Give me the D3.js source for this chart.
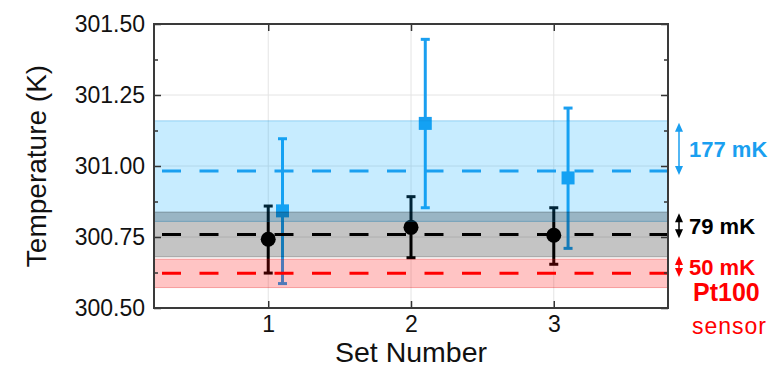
<!DOCTYPE html>
<html>
<head>
<meta charset="utf-8">
<script src="https://cdn.jsdelivr.net/npm/d3@7"></script>
<style>
  body { margin: 0; background: #fff; }
  svg { display: block; }
</style>
</head>
<body>
<div id="chart"></div>
<script>
// values
const setNumbers = [1, 2, 3];
const sensorMean = [300.742, 300.784, 300.756];
const sensorLow = [300.623, 300.677, 300.654];
const sensorHigh = [300.859, 300.892, 300.853];
const refMean = [300.842, 301.150, 300.958];
const refLow = [300.586, 300.853, 300.710];
const refHigh = [301.096, 301.446, 301.204];

// mean level and spread for each band (blue, black, red)
const bandNames = ['177 mK', '79 mK', '50 mK'];
const bandMeans = [300.982, 300.759, 300.622];
const bandSpreads = [0.177, 0.079, 0.050];
// double arrows beside the plot
const arrowTop = [301.152, 300.834, 300.683];
const arrowBottom = [300.968, 300.746, 300.609];

const yTicks = [300.50, 300.75, 301.00, 301.25, 301.50];
const yMinorTicks = [300.625, 300.875, 301.125, 301.375];

const W = 772, H = 375;
const margin = { top: 24, right: 104, bottom: 67, left: 154 };
const width = W - margin.left - margin.right;
const height = H - margin.top - margin.bottom;

const blue = '#1a9ff0';
const red = '#ff0000';
const bandFill = ['rgba(0,170,255,0.22)', 'rgba(0,0,0,0.23)', 'rgba(255,0,0,0.23)'];
const bandEdge = ['rgba(0,140,220,0.35)', 'rgba(0,0,0,0.25)', 'rgba(230,0,0,0.3)'];
const bandColor = [blue, '#000', red];
const font = '"Liberation Sans", Arial, sans-serif';

const svg = d3.select('#chart').append('svg')
  .attr('width', W)
  .attr('height', H);

const g = svg.append('g')
  .attr('transform', `translate(${margin.left},${margin.top})`);

const x = d3.scaleLinear().domain([0.2, 3.8]).range([0, width]);
const y = d3.scaleLinear().domain([300.5, 301.5]).range([height, 0]);

// gridlines
g.append('g').selectAll('line').data(yTicks).enter().append('line')
  .attr('x1', 0).attr('x2', width)
  .attr('y1', d => y(d)).attr('y2', d => y(d))
  .style('stroke', '#e4e4e4').style('stroke-width', 1);
g.append('g').selectAll('line').data(setNumbers).enter().append('line')
  .attr('x1', d => x(d)).attr('x2', d => x(d))
  .attr('y1', 0).attr('y2', height)
  .style('stroke', '#e4e4e4').style('stroke-width', 1);

// error bars + markers
const drawSeries = (mean, lo, hi, dx, color, shape) => {
  const s = g.append('g');
  const idx = d3.range(mean.length);
  s.selectAll('.bar').data(idx).enter().append('line')
    .attr('x1', i => x(setNumbers[i] + dx)).attr('x2', i => x(setNumbers[i] + dx))
    .attr('y1', i => y(lo[i])).attr('y2', i => y(hi[i]))
    .style('stroke', color).style('stroke-width', 3);
  [lo, hi].forEach(arr => {
    s.selectAll(null).data(idx).enter().append('line')
      .attr('x1', i => x(setNumbers[i] + dx) - 4.5).attr('x2', i => x(setNumbers[i] + dx) + 4.5)
      .attr('y1', i => y(arr[i])).attr('y2', i => y(arr[i]))
      .style('stroke', color).style('stroke-width', 3);
  });
  if (shape === 'circle') {
    s.selectAll('circle').data(idx).enter().append('circle')
      .attr('cx', i => x(setNumbers[i] + dx)).attr('cy', i => y(mean[i]))
      .attr('r', 7.5).style('fill', color);
  } else {
    s.selectAll('rect').data(idx).enter().append('rect')
      .attr('x', i => x(setNumbers[i] + dx) - 6.5).attr('y', i => y(mean[i]) - 6.5)
      .attr('width', 13).attr('height', 13).style('fill', color);
  }
};
drawSeries(sensorMean, sensorLow, sensorHigh, 0, '#000', 'circle');
drawSeries(refMean, refLow, refHigh, 0.1, blue, 'square');

// shaded bands (drawn over the points, semi-transparent)
g.append('g').selectAll('rect').data(d3.range(bandMeans.length)).enter().append('rect')
  .attr('x', 0).attr('width', width)
  .attr('y', i => y(bandMeans[i] + bandSpreads[i]))
  .attr('height', i => y(bandMeans[i] - bandSpreads[i]) - y(bandMeans[i] + bandSpreads[i]))
  .style('fill', i => bandFill[i])
  .style('stroke', i => bandEdge[i]).style('stroke-width', 1);

// dashed mean lines
g.append('g').selectAll('line').data(d3.range(bandMeans.length)).enter().append('line')
  .attr('x1', 0).attr('x2', width)
  .attr('y1', i => y(bandMeans[i])).attr('y2', i => y(bandMeans[i]))
  .style('stroke', i => bandColor[i]).style('stroke-width', 3)
  .style('stroke-dasharray', '19,18.5').style('stroke-dashoffset', 29.5);

// axes with inward ticks
const tickStyle = sel => {
  sel.select('.domain').remove();
  sel.selectAll('line').style('stroke', '#333').style('stroke-width', 1.5);
  sel.selectAll('text').style('font-family', font)
    .style('font-size', '23px').style('fill', '#111');
};
g.append('g')
  .call(d3.axisLeft(y).tickValues(yTicks).tickFormat(d3.format('.2f')).tickSize(-7).tickPadding(9))
  .call(tickStyle);
g.append('g')
  .call(d3.axisLeft(y).tickValues(yMinorTicks).tickFormat('').tickSize(-4))
  .call(tickStyle);
g.append('g').attr('transform', `translate(${width},0)`)
  .call(d3.axisRight(y).tickValues(yTicks).tickFormat('').tickSize(-7))
  .call(tickStyle);
g.append('g').attr('transform', `translate(${width},0)`)
  .call(d3.axisRight(y).tickValues(yMinorTicks).tickFormat('').tickSize(-4))
  .call(tickStyle);
g.append('g').attr('transform', `translate(0,${height})`)
  .call(d3.axisBottom(x).tickValues(setNumbers).tickFormat(d3.format('d')).tickSize(-7).tickPadding(8))
  .call(tickStyle);
g.append('g')
  .call(d3.axisTop(x).tickValues(setNumbers).tickFormat('').tickSize(-7))
  .call(tickStyle);

// frame
g.append('rect')
  .attr('width', width).attr('height', height)
  .style('fill', 'none').style('stroke', '#3a3a3a').style('stroke-width', 2);

// axis titles
g.append('text')
  .attr('x', width / 2).attr('y', height + 54)
  .style('text-anchor', 'middle')
  .style('font-family', font).style('font-size', '28.5px')
  .style('fill', '#111')
  .text('Set Number');

g.append('text')
  .attr('transform', `translate(${46 - margin.left},${height / 2}) rotate(-90)`)
  .style('text-anchor', 'middle')
  .style('font-family', font).style('font-size', '28px')
  .style('fill', '#111')
  .text('Temperature (K)');

// spread arrows and labels on the right
const ax = width + 11;
const ann = g.append('g');
bandMeans.forEach((m, i) => {
  const y0 = y(arrowBottom[i]), y1 = y(arrowTop[i]);
  const hl = Math.min(9, (y0 - y1) / 2), hw = 4;
  ann.append('line')
    .attr('x1', ax).attr('x2', ax).attr('y1', y1 + hl - 1).attr('y2', y0 - hl + 1)
    .style('stroke', bandColor[i]).style('stroke-width', 1.5);
  ann.append('path')
    .attr('d', `M${ax},${y1}L${ax - hw},${y1 + hl}L${ax + hw},${y1 + hl}Z M${ax},${y0}L${ax - hw},${y0 - hl}L${ax + hw},${y0 - hl}Z`)
    .style('fill', bandColor[i]);
  ann.append('text')
    .attr('x', ax + 10).attr('y', (y0 + y1) / 2 + 8)
    .style('font-family', font).style('font-weight', 'bold')
    .style('font-size', '22px').style('fill', bandColor[i])
    .text(bandNames[i]);
});
ann.append('text')
  .attr('x', ax + 14).attr('y', 301 - margin.top)
  .style('font-family', font).style('font-weight', 'bold')
  .style('font-size', '25px').style('fill', red)
  .text('Pt100');
ann.append('text')
  .attr('x', ax + 13).attr('y', 334 - margin.top)
  .style('font-family', font)
  .style('font-size', '23px').style('letter-spacing', '1px').style('fill', red)
  .text('sensor');
</script>
</body>
</html>
